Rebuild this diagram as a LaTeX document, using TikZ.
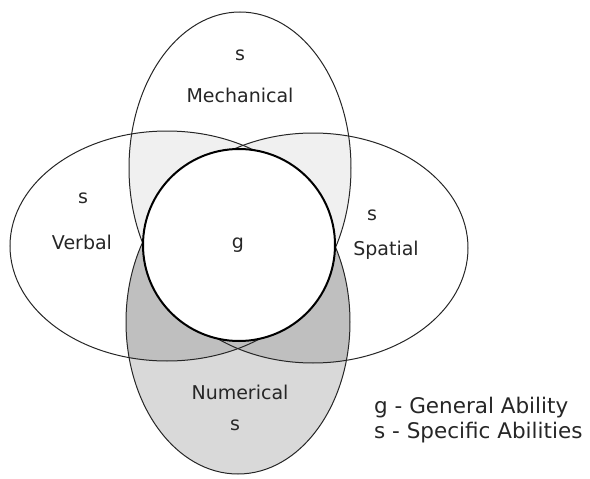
\documentclass[tikz,border=0pt]{standalone}
\usepackage{fontspec}
\setmainfont{DejaVu Sans}
\begin{document}
\begin{tikzpicture}[x=1pt,y=-1pt,
  lbl/.style={font=\fontsize{19}{22}\selectfont, inner sep=0pt, text=black!85},
  leg/.style={font=\fontsize{21.5}{24}\selectfont, inner sep=0pt, anchor=west, text=black!85},
  outline/.style={draw=black!85, line width=1pt},
  ring/.style={draw=black, line width=2pt, fill=white}]
\useasboundingbox (0,0) rectangle (590,479);
\def\mechpath{(240,168) ellipse [x radius=111, y radius=156]}
\def\numpath{(238,322) ellipse [x radius=112, y radius=152]}
\def\verbpath{(167,246) ellipse [x radius=157, y radius=115]}
\def\spatpath{(313,248) ellipse [x radius=155, y radius=115]}
% fills
\fill[black!15] \numpath;
\begin{scope}
  \clip \numpath;
  \fill[black!25] \verbpath;
  \fill[black!25] \spatpath;
\end{scope}
\begin{scope}
  \clip \mechpath;
  \fill[black!6] \verbpath;
  \fill[black!6] \spatpath;
\end{scope}
% outlines
\draw[outline] \mechpath;
\draw[outline] \numpath;
\draw[outline] \verbpath;
\draw[outline] \spatpath;
% general ability circle
\draw[ring] (239,245) circle [radius=96];
% labels
\node[lbl] (ms) at (240,55) {s};
\node[lbl] (mt) at (240,95) {Mechanical};
\node[lbl] (vs) at (83,198) {s};
\node[lbl] (vt) at (82,242) {Verbal};
\node[lbl] (g) at (238,245) {g};
\node[lbl] (ss) at (372,215) {s};
\node[lbl] (st) at (386,250) {Spatial};
\node[lbl] (nt) at (240,392) {Numerical};
\node[lbl] (ns) at (235,425) {s};
\node[leg] (l1) at (374,408) {g - General Ability};
\node[leg] (l2) at (374,433) {s - Specific Abilities};
\end{tikzpicture}
\end{document}
